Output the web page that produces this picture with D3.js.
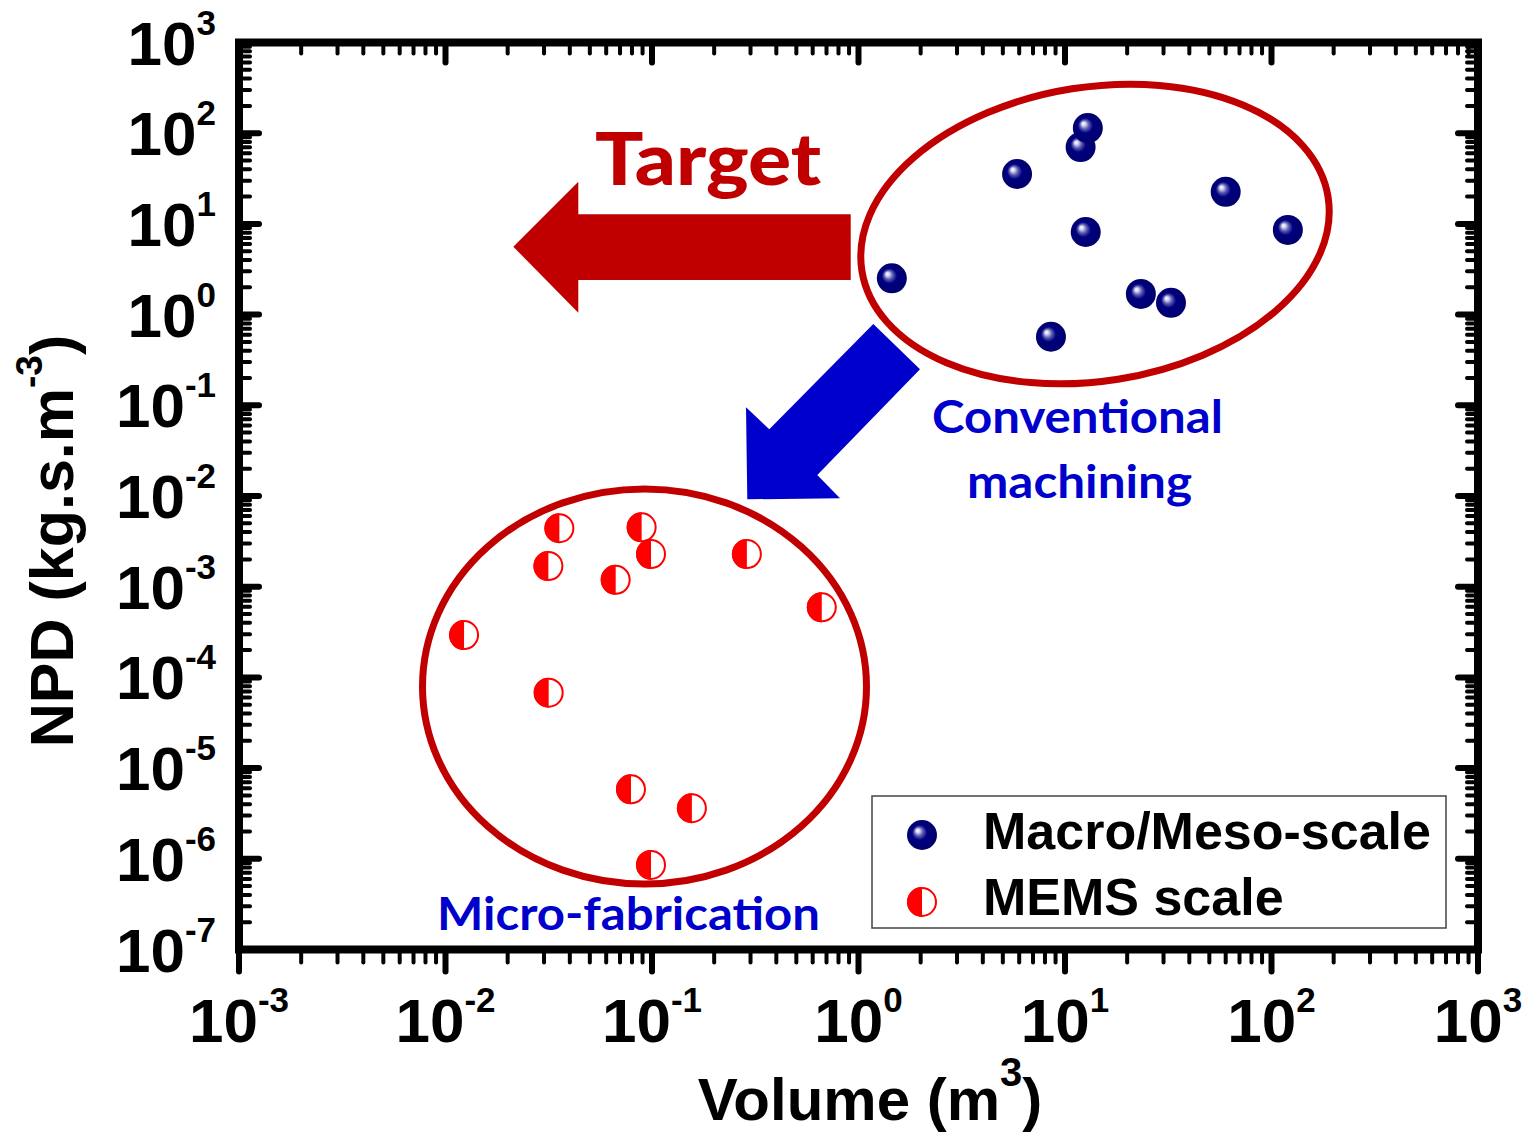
<!DOCTYPE html>
<html>
<head>
<meta charset="utf-8">
<script src="https://cdn.jsdelivr.net/npm/d3@7"></script>
<style>
  body { margin: 0; background: #fff; }
  svg { display: block; }
</style>
</head>
<body>
<svg id="chart" width="1525" height="1138"></svg>
<script>
// Macro/meso-scale devices (conventional machining): volume (m^3) and NPD (kg.s.m^-3)
const macroVolume = [1.45, 5.86, 11.9, 12.9, 12.6, 60.0, 120, 23.3, 32.6, 8.55];
const macroNPD    = [2.51, 35.5, 70.4, 114, 8.14, 22.6, 8.57, 1.69, 1.35, 0.570];

// MEMS-scale devices (micro-fabrication)
const memsVolume = [0.0356, 0.0891, 0.0989, 0.288, 0.0315, 0.0667, 0.664, 0.0123, 0.0316, 0.0791, 0.156, 0.0989];
const memsNPD    = [0.00441, 0.00452, 0.00229, 0.00229, 0.00169, 0.00119, 0.000593, 0.000293, 6.78e-5, 5.83e-6, 3.61e-6, 8.55e-7];

// Decade exponents used for tick labels
const xTickExponents = [-3, -2, -1, 0, 1, 2, 3];
const yTickExponents = [3, 2, 1, 0, -1, -2, -3, -4, -5, -6, -7];

const seriesNames = ["Macro/Meso-scale", "MEMS scale"];

const svg = d3.select("#chart");
const FONT = "'Liberation Sans', Arial, sans-serif";
const CAL = "Lato, 'Open Sans', sans-serif";
const DARK_RED = "#C00000";
const BLUE = "#0000CC";

const x = d3.scaleLog().domain([1e-3, 1e3]).range([239, 1478]);
const y = d3.scaleLog().domain([1e-7, 1e3]).range([949.5, 42.5]);
const [x0, x1] = x.range();
const [yb, yt] = y.range();

// sphere shading for macro markers
const defs = svg.append("defs");
const grad = defs.append("radialGradient")
  .attr("id", "sphere").attr("cx", "50%").attr("cy", "50%").attr("r", "50%")
  .attr("fx", "34%").attr("fy", "34%");
[[0, "#ffffff"], [0.12, "#d8d8f4"], [0.3, "#5a5ab0"], [0.5, "#000080"], [1, "#00006c"]]
  .forEach(([o, c]) => grad.append("stop").attr("offset", o).attr("stop-color", c));

// minor & major tick values
function decadeTicks(lo, hi) {
  const major = [], minor = [];
  for (let e = lo; e <= hi; e++) {
    major.push(Math.pow(10, e));
    if (e < hi) for (let k = 2; k <= 9; k++) minor.push(k * Math.pow(10, e));
  }
  return { major, minor };
}
const xt = decadeTicks(-3, 3);
const yt2 = decadeTicks(-7, 3);

const tickG = svg.append("g").attr("stroke", "#000").attr("stroke-linecap", "round");
function drawTicks(vals, len, w) {
  // bottom (outward)
  tickG.selectAll(null).data(vals.x).join("line")
    .attr("x1", d => x(d)).attr("x2", d => x(d))
    .attr("y1", yb).attr("y2", yb + len + 2).attr("stroke-width", w);
  // top (inward)
  tickG.selectAll(null).data(vals.x).join("line")
    .attr("x1", d => x(d)).attr("x2", d => x(d))
    .attr("y1", yt).attr("y2", yt + len).attr("stroke-width", w);
  // left (inward)
  tickG.selectAll(null).data(vals.y).join("line")
    .attr("y1", d => y(d)).attr("y2", d => y(d))
    .attr("x1", x0).attr("x2", x0 + len).attr("stroke-width", w);
  // right (inward)
  tickG.selectAll(null).data(vals.y).join("line")
    .attr("y1", d => y(d)).attr("y2", d => y(d))
    .attr("x1", x1).attr("x2", x1 - len).attr("stroke-width", w);
}
drawTicks({ x: xt.minor, y: yt2.minor }, 11, 4);
drawTicks({ x: xt.major, y: yt2.major }, 20, 6);

// frame
svg.append("rect")
  .attr("x", x0).attr("y", yt).attr("width", x1 - x0).attr("height", yb - yt)
  .attr("fill", "none").attr("stroke", "#000").attr("stroke-width", 8);

// tick labels
const supText = e => (e < 0 ? "-" : "") + Math.abs(e);
const xl = svg.append("g").attr("font-family", FONT).attr("font-weight", "bold").attr("fill", "#000");
xTickExponents.forEach(e => {
  const t = xl.append("text").attr("x", x(Math.pow(10, e))).attr("y", 1042).attr("text-anchor", "middle");
  t.append("tspan").attr("font-size", 62).text("10");
  t.append("tspan").attr("font-size", 35).attr("dy", -30).text(supText(e));
});
const yl = svg.append("g").attr("font-family", FONT).attr("font-weight", "bold").attr("fill", "#000");
yTickExponents.forEach(e => {
  const t = yl.append("text").attr("x", 216).attr("y", y(Math.pow(10, e)) + 22).attr("text-anchor", "end");
  t.append("tspan").attr("font-size", 62).text("10");
  t.append("tspan").attr("font-size", 35).attr("dy", -30).text(supText(e));
});

// axis titles
const xTitle = svg.append("text").attr("x", 870).attr("y", 1120).attr("text-anchor", "middle")
  .attr("font-family", FONT).attr("font-weight", "bold").attr("fill", "#000");
xTitle.append("tspan").attr("font-size", 60).text("Volume (m");
xTitle.append("tspan").attr("font-size", 40).attr("dy", -34).text("3");
xTitle.append("tspan").attr("font-size", 60).attr("dy", 34).text(")");

const yTitle = svg.append("text").attr("transform", "translate(73,541) rotate(-90)").attr("text-anchor", "middle")
  .attr("font-family", FONT).attr("font-weight", "bold").attr("fill", "#000");
yTitle.append("tspan").attr("font-size", 61).text("NPD (kg.s.m");
yTitle.append("tspan").attr("font-size", 37).attr("dy", -31).text("-3");
yTitle.append("tspan").attr("font-size", 61).attr("dy", 31).text(")");

// group outlines
svg.append("ellipse").attr("cx", 1095).attr("cy", 234).attr("rx", 236).attr("ry", 147)
  .attr("transform", "rotate(-9,1095,234)")
  .attr("fill", "none").attr("stroke", DARK_RED).attr("stroke-width", 7);
svg.append("ellipse").attr("cx", 644.5).attr("cy", 686.5).attr("rx", 222).attr("ry", 197.5)
  .attr("fill", "none").attr("stroke", DARK_RED).attr("stroke-width", 7);

// arrows
svg.append("polygon")
  .attr("points", [[513.3, 246.7], [578.3, 181.7], [578.3, 214.3], [850.7, 214.3], [850.7, 280], [578.3, 280], [578.3, 312.7]].join(" "))
  .attr("fill", DARK_RED);
svg.append("polygon")
  .attr("points", [[873.3, 324], [920, 369.3], [817.3, 475], [840, 498.3], [747.3, 499.3], [746, 407.3], [769.3, 429.3]].join(" "))
  .attr("fill", BLUE);

// annotation text
svg.append("text").attr("x", 595).attr("y", 185).attr("font-family", CAL).attr("font-weight", 900)
  .attr("font-size", 73).attr("fill", DARK_RED).attr("textLength", 226).attr("lengthAdjust", "spacingAndGlyphs")
  .text("Target");
svg.append("text").attr("x", 932).attr("y", 433).attr("font-family", CAL).attr("font-weight", "bold")
  .attr("font-size", 46).attr("fill", BLUE).attr("textLength", 291).attr("lengthAdjust", "spacingAndGlyphs")
  .text("Conventional");
svg.append("text").attr("x", 967).attr("y", 498).attr("font-family", CAL).attr("font-weight", "bold")
  .attr("font-size", 46).attr("fill", BLUE).attr("textLength", 225).attr("lengthAdjust", "spacingAndGlyphs")
  .text("machining");
svg.append("text").attr("x", 437).attr("y", 930).attr("font-family", CAL).attr("font-weight", "bold")
  .attr("font-size", 46).attr("fill", BLUE).attr("textLength", 383).attr("lengthAdjust", "spacingAndGlyphs")
  .text("Micro-fabrication");

// marker renderers
function sphere(g, cx, cy) {
  g.append("circle").attr("cx", cx).attr("cy", cy).attr("r", 15).attr("fill", "url(#sphere)");
}
function halfDisc(g, cx, cy) {
  const r = 14;
  g.append("circle").attr("cx", cx).attr("cy", cy).attr("r", r)
    .attr("fill", "#fff").attr("stroke", "#FF0000").attr("stroke-width", 2);
  g.append("path")
    .attr("d", `M${cx},${cy - r - 1}A${r + 1},${r + 1} 0 0 0 ${cx},${cy + r + 1}Z`)
    .attr("fill", "#FF0000");
}

// data points
const macroG = svg.append("g");
macroVolume.forEach((v, i) => sphere(macroG, x(v), y(macroNPD[i])));
const memsG = svg.append("g");
memsVolume.forEach((v, i) => halfDisc(memsG, x(v), y(memsNPD[i])));

// legend
const lg = svg.append("g");
lg.append("rect").attr("x", 872).attr("y", 796).attr("width", 574).attr("height", 132)
  .attr("fill", "#fff").attr("stroke", "#444").attr("stroke-width", 1.5);
sphere(lg, 922, 835);
halfDisc(lg, 922, 902);
lg.selectAll("text.leg").data(seriesNames).join("text")
  .attr("x", 983).attr("y", (d, i) => 849 + i * 66)
  .attr("font-family", FONT).attr("font-weight", "bold").attr("font-size", 52).attr("fill", "#000")
  .text(d => d);
</script>
</body>
</html>
